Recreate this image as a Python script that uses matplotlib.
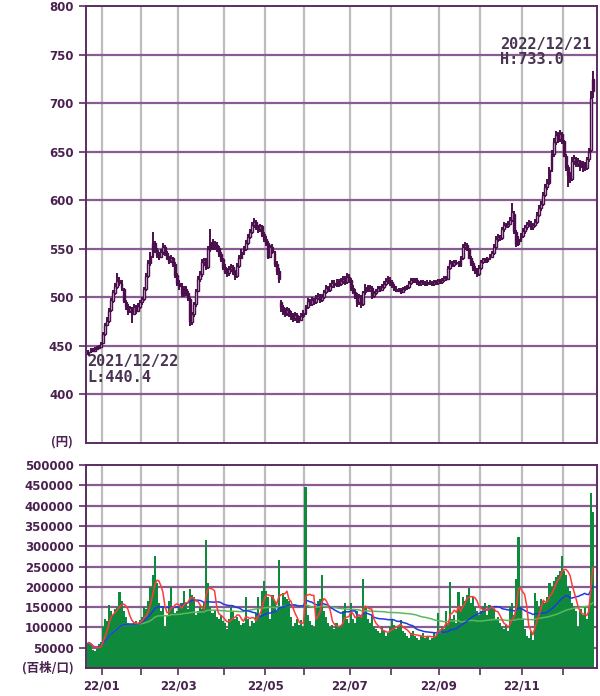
import matplotlib
matplotlib.use("Agg")
import matplotlib.pyplot as plt
import numpy as np
import pandas as pd

plt.rcParams["font.family"] = ["DejaVu Sans", "Noto Sans CJK JP"]
plt.rcParams["font.weight"] = "bold"

# --- data -----------------------------------------------------------------
START, END = "2021-12-22", "2022-12-21"
HOLIDAYS = ["2021-12-31", "2022-01-03", "2022-01-10", "2022-02-11", "2022-02-23",
            "2022-03-21", "2022-04-29", "2022-05-03", "2022-05-04", "2022-05-05",
            "2022-07-18", "2022-09-19", "2022-09-23", "2022-10-10", "2022-11-03",
            "2022-11-23"]

opens = [
    441, 444, 447, 445, 447, 448, 449,  # 21/12
    453, 462, 472, 476, 487, 496, 504, 511, 518, 515, 509, 495, 490, 486, 488, 483, 491, 486, 490,  # 01
    495, 498, 509, 522, 535, 543, 556, 549, 544, 542, 547, 552, 546, 541, 537, 540, 534, 523,  # 02
    515, 512, 503, 509, 504, 498, 475, 483, 493, 507, 519, 524, 536, 538, 531, 550, 557, 553, 554, 551, 545, 539,  # 03
    531, 527, 525, 529, 531, 526, 522, 532, 541, 547, 550, 556, 562, 567, 574, 578, 572, 570, 573, 565,  # 04
    560, 556, 542, 552, 547, 534, 527, 495, 490, 486, 484, 487, 483, 481, 479, 482, 478, 477, 481,  # 05
    484, 490, 496, 493, 497, 495, 499, 501, 497, 500, 505, 510, 508, 512, 515, 513, 516, 514, 517, 519, 516, 521,  # 06
    518, 510, 506, 501, 495, 500, 493, 505, 511, 508, 510, 501, 504, 507, 510, 508, 511, 514, 517, 518,  # 07
    516, 512, 509, 507, 508, 505, 509, 510, 511, 515, 518, 517, 518, 515, 514, 516, 515, 514, 516, 515, 514, 516, 515,  # 08
    517, 516, 518, 520, 519, 530, 535, 533, 536, 535, 533, 540, 552, 554, 550, 541, 535, 530, 527, 524,  # 09
    530, 536, 539, 537, 540, 542, 546, 552, 560, 562, 561, 570, 575, 573, 576, 580, 586, 567, 555, 560,  # 10
    563, 568, 572, 575, 576, 572, 574, 578, 585, 592, 596, 605, 614, 618, 631, 648, 660, 667, 663, 668,  # 11
    661, 646, 634, 626, 622, 640, 643, 638, 640, 634, 637, 633, 642, 652, 725,  # 12
]
highs = [
    446, 448, 448, 449, 450, 451, 454,
    464, 474, 480, 489, 499, 508, 515, 525, 521, 518, 510, 497, 493, 491, 490, 493, 492, 494, 497,
    500, 511, 525, 538, 547, 567, 558, 551, 547, 550, 556, 554, 548, 543, 544, 542, 536, 525,
    518, 515, 512, 512, 507, 500, 485, 495, 509, 522, 527, 539, 541, 540, 553, 570, 560, 558, 557, 553, 547, 541,
    534, 530, 532, 534, 533, 528, 535, 544, 550, 553, 559, 565, 570, 578, 582, 580, 575, 576, 575, 567,
    563, 558, 554, 555, 548, 537, 530, 497, 492, 489, 490, 489, 486, 484, 485, 484, 481, 484, 487,
    492, 499, 498, 500, 499, 502, 504, 503, 503, 508, 513, 512, 515, 518, 518, 519, 519, 520, 522, 522, 525, 524,
    520, 513, 509, 504, 503, 502, 507, 514, 513, 513, 512, 507, 509, 512, 512, 514, 517, 520, 522, 521,
    518, 514, 512, 510, 510, 511, 512, 513, 517, 520, 520, 520, 520, 517, 518, 518, 517, 518, 518, 517, 518, 518, 519,
    519, 520, 522, 522, 532, 538, 537, 538, 538, 537, 543, 555, 557, 556, 551, 543, 537, 532, 530, 533,
    538, 541, 541, 542, 545, 548, 555, 563, 565, 564, 572, 578, 577, 579, 583, 597, 589, 569, 563, 566,
    571, 575, 578, 580, 579, 577, 581, 588, 595, 599, 608, 617, 622, 634, 652, 664, 671, 670, 672, 670,
    662, 648, 636, 629, 644, 647, 645, 643, 641, 640, 639, 645, 654, 712, 733,
]
lows = [
    440.4, 443, 444, 444, 446, 447, 448,
    452, 460, 470, 474, 485, 494, 502, 509, 512, 507, 494, 487, 482, 484, 474, 482, 483, 485, 488,
    492, 496, 507, 520, 532, 541, 546, 541, 538, 540, 544, 543, 538, 534, 535, 531, 520, 512,
    508, 500, 500, 501, 496, 470, 472, 480, 490, 505, 516, 521, 532, 528, 529, 547, 549, 549, 547, 542, 536, 528,
    524, 521, 522, 526, 523, 518, 520, 530, 539, 544, 548, 554, 560, 565, 571, 569, 566, 567, 562, 557,
    553, 539, 540, 545, 531, 523, 515, 485, 482, 480, 481, 480, 477, 475, 476, 474, 474, 476, 479,
    482, 488, 491, 491, 492, 493, 497, 494, 495, 498, 503, 505, 506, 510, 510, 511, 511, 512, 514, 513, 514, 515,
    507, 503, 498, 490, 492, 489, 491, 502, 505, 506, 498, 499, 502, 505, 505, 507, 509, 512, 514, 512,
    510, 507, 505, 505, 503, 504, 507, 508, 509, 513, 515, 515, 513, 512, 512, 513, 512, 512, 513, 512, 512, 513, 513,
    514, 514, 516, 517, 518, 528, 531, 531, 533, 531, 531, 538, 549, 548, 539, 532, 527, 524, 521, 522,
    528, 534, 535, 535, 538, 540, 544, 550, 557, 558, 559, 567, 571, 571, 574, 578, 565, 552, 553, 557,
    561, 565, 569, 572, 569, 569, 572, 576, 583, 589, 594, 603, 611, 616, 629, 645, 657, 659, 660, 658,
    644, 630, 614, 618, 620, 636, 634, 634, 630, 629, 630, 631, 639, 650, 705,
]
closes = [
    444, 446, 445, 447, 448, 449, 452,
    462, 471, 476, 486, 497, 505, 512, 517, 515, 510, 496, 491, 486, 489, 484, 490, 486, 491, 495,
    498, 509, 522, 535, 543, 556, 549, 544, 542, 547, 552, 546, 541, 537, 540, 534, 523, 515,
    512, 503, 509, 504, 499, 476, 483, 493, 507, 519, 524, 536, 538, 531, 550, 557, 553, 554, 551, 545, 539, 531,
    527, 525, 529, 531, 526, 522, 532, 541, 547, 550, 556, 562, 567, 574, 578, 572, 570, 573, 565, 560,
    556, 542, 552, 547, 534, 527, 519, 490, 486, 484, 487, 483, 481, 479, 482, 478, 477, 481, 484,
    490, 496, 493, 497, 495, 499, 501, 497, 500, 505, 510, 508, 512, 515, 513, 516, 514, 517, 519, 516, 521, 518,
    510, 506, 501, 495, 500, 493, 505, 511, 508, 510, 501, 504, 507, 510, 508, 511, 514, 517, 518, 516,
    512, 509, 507, 508, 505, 509, 510, 511, 515, 518, 517, 518, 515, 514, 516, 515, 514, 516, 515, 514, 516, 515, 517,
    516, 518, 520, 519, 530, 535, 533, 536, 535, 533, 540, 552, 554, 550, 541, 535, 530, 527, 524, 530,
    536, 539, 537, 540, 542, 546, 552, 560, 562, 561, 570, 575, 573, 576, 580, 588, 568, 555, 560, 563,
    568, 572, 575, 576, 572, 574, 578, 585, 592, 596, 605, 614, 618, 631, 648, 660, 667, 663, 668, 661,
    646, 634, 626, 622, 640, 643, 638, 640, 634, 637, 633, 642, 650, 705, 712,
]
volumes = [
    62000, 58000, 45000, 42000, 48000, 60000, 65000,
    100000, 120000, 115000, 155000, 140000, 130000, 145000, 150000, 188000, 165000,
    140000, 125000, 110000, 105000, 108000, 112000, 115000, 110000, 118000,
    125000, 150000, 145000, 165000, 200000, 230000, 275000, 210000, 160000, 140000,
    150000, 100000, 130000, 165000, 200000, 150000, 135000, 140000,
    150000, 160000, 190000, 160000, 145000, 195000, 180000, 175000, 130000, 140000, 150000,
    145000, 160000, 316000, 210000, 150000, 135000, 140000, 125000, 120000, 130000, 115000,
    110000, 95000, 120000, 150000, 140000, 120000, 125000, 115000, 105000, 110000,
    175000, 120000, 100000, 115000, 110000, 135000, 175000, 130000, 190000, 215000,
    190000, 175000, 120000, 180000, 165000, 140000, 266000, 150000, 185000, 175000,
    170000, 165000, 125000, 100000, 110000, 120000, 105000, 118000, 100000,
    445000, 130000, 115000, 105000, 100000, 150000, 165000, 170000, 230000, 140000, 125000,
    110000, 100000, 105000, 95000, 110000, 100000, 105000, 140000, 160000, 120000, 110000,
    160000, 120000, 110000, 140000, 125000, 130000, 218000, 150000, 120000, 110000,
    130000, 100000, 95000, 90000, 85000, 100000, 90000, 80000, 85000, 100000,
    120000, 105000, 95000, 100000, 118000, 90000, 85000, 80000, 75000, 85000, 90000, 80000,
    75000, 70000, 80000, 85000, 75000, 80000, 70000, 75000, 85000, 80000, 135000,
    85000, 100000, 95000, 140000, 110000, 213000, 120000, 130000, 110000, 186000,
    150000, 176000, 165000, 180000, 198000, 160000, 176000, 150000, 140000, 130000,
    140000, 150000, 160000, 130000, 155000, 150000, 145000, 120000, 125000, 110000,
    100000, 95000, 105000, 90000, 150000, 160000, 130000, 218000, 322000, 150000,
    120000, 95000, 80000, 75000, 90000, 70000, 185000, 165000, 150000, 170000,
    165000, 160000, 175000, 210000, 200000, 215000, 225000, 230000, 240000, 275000,
    240000, 230000, 200000, 190000, 160000, 150000, 140000, 100000, 145000, 130000,
    150000, 120000, 150000, 430000, 385000,
]
PRICE_TICKS = [400, 450, 500, 550, 600, 650, 700, 750, 800]
VOLUME_TICKS = [50000, 100000, 150000, 200000, 250000, 300000, 350000, 400000, 450000, 500000]
MA_WINDOWS = {5: "#ff3a3a", 25: "#1f3ae0", 75: "#5cb85c"}

# --- styling ----------------------------------------------------------------
CANDLE = "#4a0f4c"
SPINE = "#5a2d60"
GRID_H = "#8a5a92"
GRID_V = "#bcbcbc"
TEXT = "#4a2250"
VOL_GREEN = "#0f8a3c"
W, H = 600, 696

dates = pd.bdate_range(START, END, freq="C", holidays=HOLIDAYS)
assert len(dates) == len(opens) == len(highs) == len(lows) == len(closes) == len(volumes), \
    (len(dates), len(opens), len(highs), len(lows), len(closes), len(volumes))

x = np.arange(len(dates))
o, hi, lo, c = (np.asarray(a, dtype=float) for a in (opens, highs, lows, closes))
vol = pd.Series(volumes, dtype=float)

month_pos = [i - 0.5 for i in range(1, len(dates)) if dates[i].month != dates[i - 1].month]
month_lbl = [f"{dates[i]:%y/%m}" if dates[i].month % 2 == 1 else ""
             for i in range(1, len(dates)) if dates[i].month != dates[i - 1].month]

fig = plt.figure(figsize=(W / 100, H / 100), dpi=100)
ax_p = fig.add_axes([86 / W, 1 - 443 / H, (597 - 86) / W, (443 - 6) / H])
ax_v = fig.add_axes([86 / W, 1 - 668 / H, (597 - 86) / W, (668 - 465) / H])

for ax in (ax_p, ax_v):
    ax.set_xlim(-1.2, 246)
    for p in month_pos:
        ax.axvline(p, color=GRID_V, lw=1.6, zorder=1)
    for s in ax.spines.values():
        s.set_color(SPINE)
        s.set_linewidth(1.4)
    ax.tick_params(axis="y", length=5, width=1.2, color=SPINE, labelsize=8.5,
                   labelcolor=TEXT, pad=4)

# price panel
ax_p.set_ylim(350, 800)
ax_p.set_yticks(PRICE_TICKS)
for p in PRICE_TICKS[:-1]:
    ax_p.axhline(p, color=GRID_H, lw=1.6, zorder=1)
ax_p.set_xticks([])

up = c >= o
body_lo = np.minimum(o, c)
body_h = np.maximum(np.abs(c - o), 1.0)
ax_p.vlines(x, lo, hi, color=CANDLE, lw=1.4, zorder=3)
ax_p.bar(x[up], body_h[up], bottom=body_lo[up], width=0.9, facecolor="#f4eef4",
         edgecolor=CANDLE, lw=1.0, zorder=4)
ax_p.bar(x[~up], body_h[~up], bottom=body_lo[~up], width=0.9, facecolor=CANDLE,
         edgecolor=CANDLE, lw=1.0, zorder=4)

mono = dict(family="DejaVu Sans Mono", fontsize=11, fontweight="bold", color="#4a3352",
            va="center", ha="left")
fig.text(500 / W, 1 - 45 / H, f"{dates[-1]:%Y/%m/%d}", **mono)
fig.text(500 / W, 1 - 60 / H, f"H:{hi.max():.1f}", **mono)
fig.text(87 / W, 1 - 362 / H, f"{dates[0]:%Y/%m/%d}", **mono)
fig.text(87 / W, 1 - 378 / H, f"L:{lo.min():.1f}", **mono)

cjk = dict(family=["Noto Sans CJK JP", "DejaVu Sans"], fontsize=9, fontweight="bold",
           color=TEXT, va="center", ha="right")
fig.text(73 / W, 1 - 442 / H, "(円)", **cjk)
fig.text(74 / W, 1 - 668 / H, "(百株/口)", **cjk)

# volume panel
ax_v.set_ylim(0, 500000)
ax_v.set_yticks(VOLUME_TICKS)
ax_v.set_yticklabels([str(v) for v in VOLUME_TICKS])
for v in VOLUME_TICKS[:-1]:
    ax_v.axhline(v, color=GRID_H, lw=1.6, zorder=1)
ax_v.bar(x, vol, width=1.02, color=VOL_GREEN, lw=0, antialiased=False, zorder=2)
for win, col in sorted(MA_WINDOWS.items(), reverse=True):
    ax_v.plot(x, vol.rolling(win, min_periods=1).mean(), color=col, lw=1.1, zorder=3)

ax_v.set_xticks(month_pos)
ax_v.set_xticklabels(month_lbl)
ax_v.tick_params(axis="x", length=5, width=1.2, color=SPINE, labelsize=8.5,
                 labelcolor=TEXT, pad=3)

fig.savefig("out.png", dpi=100, facecolor="white")
